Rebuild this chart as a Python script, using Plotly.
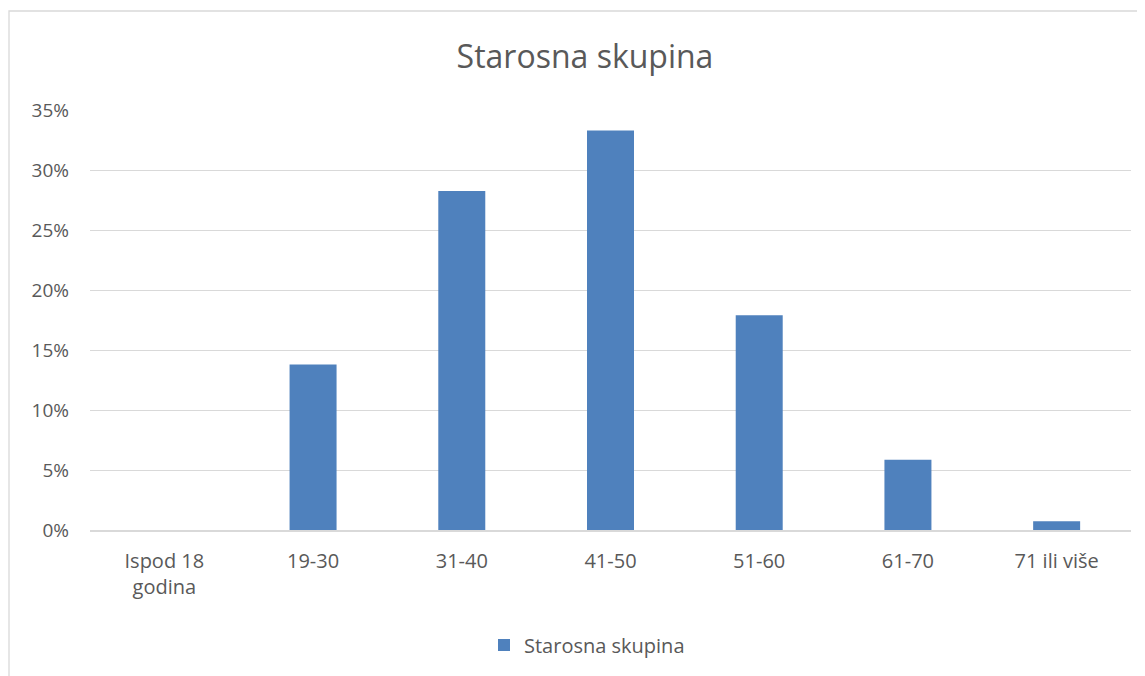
import plotly.graph_objects as go

categories = ["Ispod 18<br>godina", "19-30", "31-40", "41-50", "51-60", "61-70", "71 ili više"]
values = [0.0, 0.138, 0.2825, 0.333, 0.179, 0.0585, 0.0072]
series_name = "Starosna skupina"
y_ticks = [0, 0.05, 0.10, 0.15, 0.20, 0.25, 0.30, 0.35]

FONT = "Open Sans"
GREY = "#595959"

# page body has an 8px margin; figure coordinates below are relative to the figure
W, H = 1137, 668
L, R, T, B = 82, 14, 102, 146
pw = W - L - R
ph = H - T - B

fig = go.Figure()
fig.add_trace(go.Bar(
    x=categories, y=values, name=series_name,
    marker=dict(color="#4F81BD", line=dict(width=0)),
    showlegend=True,
))

fig.update_layout(
    width=W, height=H,
    margin=dict(l=L, r=R, t=T, b=B),
    paper_bgcolor="white", plot_bgcolor="white",
    bargap=0.684,
    title=dict(text="Starosna skupina", x=(585 - 8) / W, xanchor="center",
               y=1 - (57 - 8) / H, yanchor="middle",
               font=dict(family=FONT, size=32, color=GREY)),
    font=dict(family=FONT, size=19, color=GREY),
    xaxis=dict(showgrid=False, showline=True, linecolor="#D9D9D9", linewidth=1.5,
               ticks="", tickfont=dict(size=20, color=GREY), ticklabelstandoff=12),
    yaxis=dict(range=[0, 0.35], tickvals=y_ticks, tickformat=".0%",
               showgrid=True, gridcolor="#D9D9D9", gridwidth=1.3,
               zeroline=False, showline=False, ticks="",
               tickfont=dict(size=19, color=GREY), ticklabelstandoff=20),
    legend=dict(orientation="h", x=(484 - 8 - L) / pw, xanchor="left",
                y=(530 - 645) / ph, yanchor="middle",
                font=dict(size=20, color=GREY), itemwidth=30),
    shapes=[dict(type="rect", xref="paper", yref="paper",
                 x0=(1 - L) / pw, x1=(1134 - L) / pw,
                 y0=(522 - 720) / ph, y1=(522 - 3) / ph,
                 line=dict(color="#D9D9D9", width=1.3), fillcolor="rgba(0,0,0,0)", layer="below")],
)

fig.write_html("out.html")
